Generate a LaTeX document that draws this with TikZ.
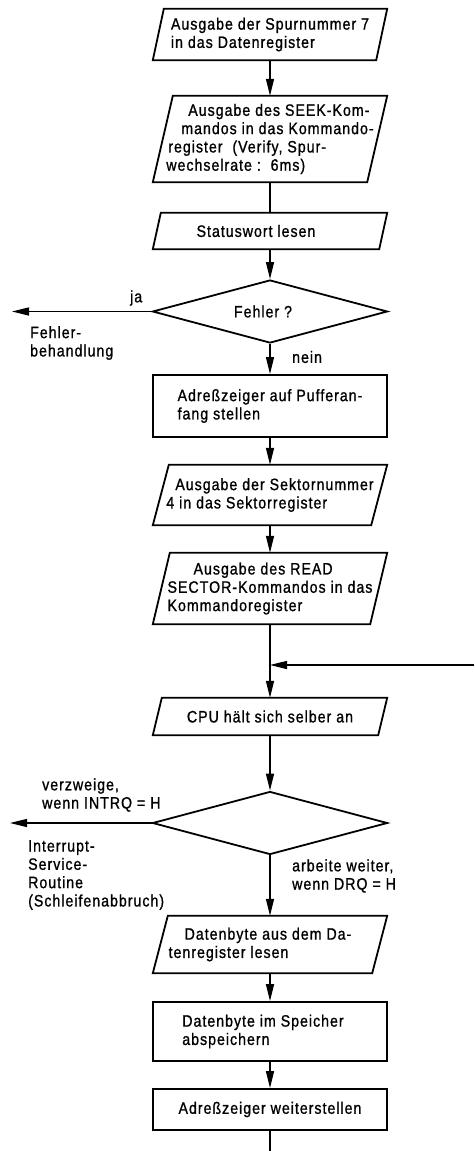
\documentclass[tikz,border=0pt]{standalone}
\usepackage{fontspec}
\setmainfont{Liberation Sans}[FakeStretch=0.86,LetterSpace=6,FakeBold=1]
\usetikzlibrary{arrows.meta,shapes.geometric}
\newcommand\pgram[2]{\draw[frame] ([xshift=#2]#1.north west) -- (#1.north east) -- ([xshift=-#2]#1.south east) -- (#1.south west) -- cycle;}
\begin{document}
\begin{tikzpicture}[x=1pt,y=-1pt,
  txt/.style={font=\fontsize{16.5}{18.3}\selectfont, inner sep=0pt},
  box/.style={txt, draw=none, minimum width=234pt, align=left},
  frame/.style={line width=1.8pt, line join=miter},
  rbox/.style={box, draw, frame},
  dia/.style={txt, diamond, aspect=3.7, draw, frame, minimum width=235pt, minimum height=63pt},
  conn/.style={line width=1.3pt},
  arr/.style={conn, -{Triangle[length=17pt,width=8pt]}},
  lbl/.style={txt, align=left}]
\useasboundingbox (0,0) rectangle (474,1151);

% boxes
\node[box, minimum height=51pt] (b1) at (270,34.5) {Ausgabe der Spurnummer 7\\in das Datenregister};
\pgram{b1}{11pt}
\node[box, minimum height=86pt] (b2) at (270,139) {\hspace*{22pt}Ausgabe des SEEK-Kom-\\\hspace*{15pt}mandos in das Kommando-\\\hspace*{2pt}register\ \ (Verify, Spur-\\wechselrate :\ \ 6ms)};
\pgram{b2}{20pt}
\node[box, minimum height=36pt] (b3) at (270,231) {Statuswort lesen\hspace*{28pt}};
\pgram{b3}{8pt}
\node[dia] (d1) at (270,311.5) {Fehler ?\hspace*{14pt}};
\node[rbox, minimum height=62pt] (b4) at (270,406) {Adreßzeiger auf Pufferan-\\fang stellen};
\node[box, minimum height=60pt] (b5) at (270,495) {\hspace*{9pt}Ausgabe der Sektornummer\\4 in das Sektorregister};
\pgram{b5}{16pt}
\node[box, minimum height=71pt] (b6) at (270,588.5) {\hspace*{26pt}Ausgabe des READ\\SECTOR-Kommandos in das\\Kommandoregister};
\pgram{b6}{17pt}
\node[box, minimum height=37pt] (b7) at (270,716.5) {CPU hält sich selber an};
\pgram{b7}{9pt}
\node[dia] (d2) at (270,823) {};
\node[box, minimum height=57pt] (b8) at (270,944.5) {\hspace*{16pt}Datenbyte aus dem Da-\hspace*{20pt}\\tenregister lesen};
\pgram{b8}{15pt}
\node[rbox, minimum height=59pt] (b9) at (270,1031.5) {Datenbyte im Speicher\hspace*{14pt}\\abspeichern};
\node[rbox, minimum height=41pt] (b10) at (270,1109.5) {Adreßzeiger weiterstellen};

% labels
\node[lbl, anchor=west] (ja) at (130,298) {ja};
\node[lbl, anchor=west] (fb) at (30,343) {Fehler-\\behandlung};
\node[lbl, anchor=west] (nein) at (292,357) {nein};
\node[lbl, anchor=west] (vz) at (42,795) {verzweige,\\wenn INTRQ = H};
\node[lbl, anchor=west] (isr) at (28,875) {Interrupt-\\Service-\\Routine\\(Schleifenabbruch)};
\node[lbl, anchor=west] (aw) at (292,876) {arbeite weiter,\\wenn DRQ = H};

% free ends
\coordinate (fe) at (12,311.5);
\coordinate (ie) at (10,823);
\coordinate (j) at (270,665);
\coordinate (jr) at (474,665);
\coordinate (end) at (270,1151);

% connectors
\draw[arr] (b1.south) -- (b2.north);
\draw[conn] (b2.south) -- (b3.north);
\draw[arr] (b3.south) -- (d1.north);
\draw[arr] (d1.west) -- (fe);
\draw[arr] (d1.south) -- (b4.north);
\draw[arr] (b4.south) -- (b5.north);
\draw[arr] (b5.south) -- (b6.north);
\draw[arr] (b6.south) -- (b7.north);
\draw[arr] (jr) -- (j);
\draw[arr] (b7.south) -- (d2.north);
\draw[arr] (d2.west) -- (ie);
\draw[arr] (d2.south) -- (b8.north);
\draw[arr] (b8.south) -- (b9.north);
\draw[arr] (b9.south) -- (b10.north);
\draw[conn] (b10.south) -- (end);
\end{tikzpicture}
\end{document}
